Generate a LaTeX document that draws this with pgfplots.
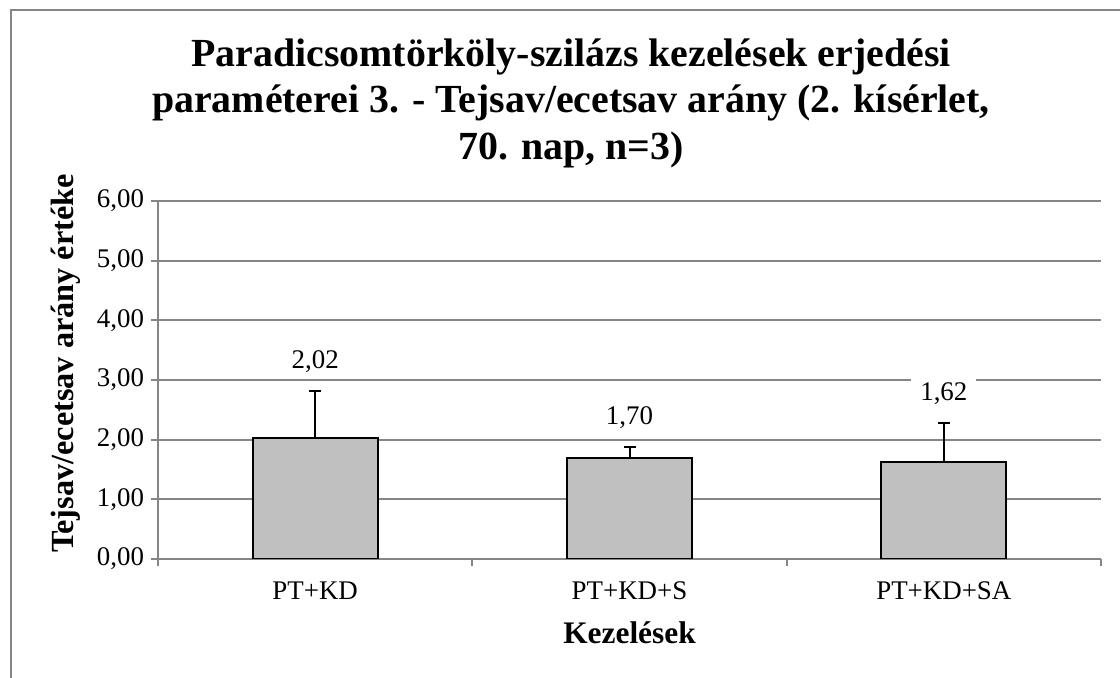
\documentclass[border=0pt]{standalone}
\usepackage{fontspec}
\setmainfont{Liberation Serif}
\usepackage{pgfplots}
\pgfplotsset{compat=1.18}
\definecolor{gridgray}{HTML}{868686}
\definecolor{barfill}{HTML}{C0C0C0}

\begin{document}
\begin{tikzpicture}
\useasboundingbox (0,0) rectangle (560bp,339bp);
% chart frame (only left and top edges are visible)
\draw[gridgray, line width=0.9bp] (5.5bp,-2bp) -- (5.5bp,334bp) -- (565bp,334bp);

\begin{axis}[
  at={(79bp,59.5bp)}, anchor=south west,
  scale only axis, width=471.5bp, height=179bp,
  xmin=-0.5, xmax=2.5, ymin=0, ymax=6,
  ytick={0,1,...,6},
  xtick={-0.5,0.5,1.5,2.5}, xticklabels={},
  extra x ticks={0,1,2},
  extra x tick labels={PT+KD, PT+KD+S, PT+KD+SA},
  extra x tick style={major tick length=0pt},
  axis x line*=bottom, axis y line*=left,
  axis line style={gridgray, line width=0.9bp, -},
  tick align=outside, major tick length=3.5bp,
  tick style={gridgray, line width=0.9bp},
  ymajorgrids, grid style={gridgray, line width=0.9bp},
  yticklabel style={/pgf/number format/fixed, /pgf/number format/fixed zerofill,
    /pgf/number format/precision=2, /pgf/number format/use comma,
    /pgf/number format/assume math mode=true},
  xticklabel style={yshift=-8bp},
  ticklabel style={font=\fontsize{13.5}{16}\selectfont},
  label style={font=\bfseries\fontsize{15.75}{18}\selectfont},
  xlabel={Kezelések},
  ylabel={Tejsav/ecetsav arány értéke},
  xlabel style={at={(axis description cs:0.5,0)}, anchor=base, yshift=-42bp},
  ylabel style={at={(axis description cs:-0.0901,0.546)}, anchor=base,
    font=\bfseries\fontsize{16.2}{19}\selectfont},
]
\addplot[ybar, bar width=62.5bp, fill=barfill, draw=black, line width=1bp,
  error bars/.cd, y dir=plus, y explicit,
  error bar style={black, line width=1bp},
  error mark options={rotate=90, mark size=3bp, line width=1bp, black}]
  coordinates {(0,2.02) +- (0,0.80) (1,1.70) +- (0,0.18) (2,1.62) +- (0,0.66)};
% value labels above the error bars
\addplot[draw=none, mark=none, nodes near coords, point meta=explicit symbolic,
  nodes near coords style={anchor=base, yshift=11bp, fill=white, inner xsep=4.5bp,
    inner ysep=2bp, text=black, font=\fontsize{13.5}{16}\selectfont}]
  table[meta=lab] {
x y lab
0 2.82 2,02
1 1.88 1,70
2 2.28 1,62
};
\end{axis}

\node[font=\bfseries\fontsize{20}{24}\selectfont, anchor=base] at (285.5bp,305.5bp)
  {Paradicsomtörköly-szilázs kezelések erjedési};
\node[font=\bfseries\fontsize{20}{24}\selectfont, anchor=base] at (285.5bp,282.5bp)
  {paraméterei 3. - Tejsav/ecetsav arány (2. kísérlet,};
\node[font=\bfseries\fontsize{20}{24}\selectfont, anchor=base] at (285.5bp,259bp)
  {70. nap, n=3)};
\end{tikzpicture}
\end{document}
